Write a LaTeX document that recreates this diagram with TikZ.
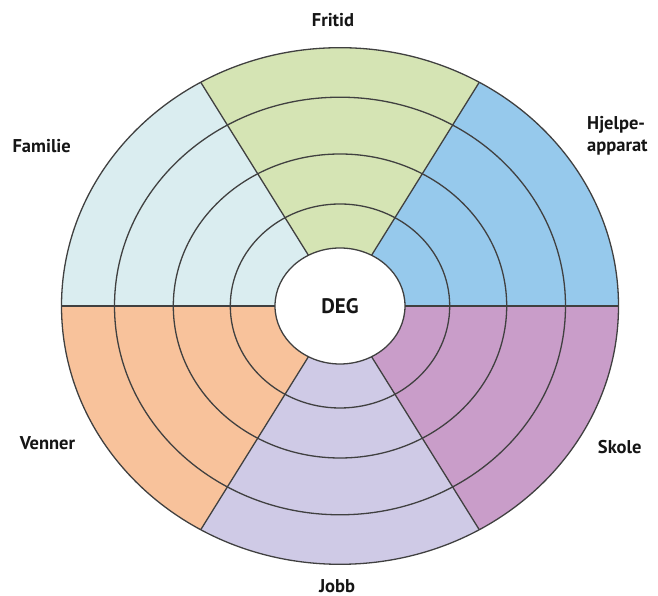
\documentclass[tikz,border=0pt]{standalone}
\usepackage{fontspec}
\setmainfont{PT Sans}
\usetikzlibrary{shapes.geometric}
\definecolor{cFam}{HTML}{DAEDF0}
\definecolor{cFri}{HTML}{D5E4B4}
\definecolor{cHje}{HTML}{96C9EC}
\definecolor{cSko}{HTML}{C99DC9}
\definecolor{cJob}{HTML}{CFCAE6}
\definecolor{cVen}{HTML}{F8C29B}
\definecolor{lineC}{HTML}{404040}
\definecolor{txtC}{HTML}{151515}
\begin{document}
\begin{tikzpicture}[x=1pt,y=1pt,
  ring/.style={draw=lineC, line width=1.3pt},
  lbl/.style={font=\bfseries\fontsize{18.5}{22}\selectfont, text=txtC, inner sep=0pt}]
\useasboundingbox (0,0) rectangle (658,596);
\begin{scope}[shift={(340,290)}]
\coordinate (c) at (0,0);
\foreach \a in {0,60,...,300}
  \coordinate (o\a) at ({278.5*cos(\a)},{258.3*sin(\a)});
\foreach \a/\b/\col in {0/60/cHje,60/120/cFri,120/180/cFam,180/240/cVen,240/300/cJob,300/360/cSko}
  \fill[\col] (c) -- ({278.5*cos(\a)},{258.3*sin(\a)}) arc[start angle=\a,end angle=\b,x radius=278.5,y radius=258.3] -- cycle;
\foreach \rx/\ry in {109.7/102,166.7/152,225.5/208.8,278.5/258.3}
  \draw[ring] (c) ellipse[x radius=\rx, y radius=\ry];
\foreach \a in {0,60,...,300}
  \draw[ring] (c) -- (o\a);
\node[ellipse, draw=lineC, line width=1.3pt, fill=white, minimum width=130pt, minimum height=116pt, lbl, font=\bfseries\fontsize{21}{24}\selectfont] (deg) at (c) {DEG};
\end{scope}
\node[lbl] (fritid) at (333,576) {Fritid};
\node[lbl, anchor=west, align=left] (hjelpe) at (587,460) {Hjelpe-\\apparat};
\node[lbl] (familie) at (41.7,450) {Familie};
\node[lbl] (venner) at (47.5,153) {Venner};
\node[lbl] (skole) at (619.7,149) {Skole};
\node[lbl] (jobb) at (337,10) {Jobb};
\end{tikzpicture}
\end{document}
